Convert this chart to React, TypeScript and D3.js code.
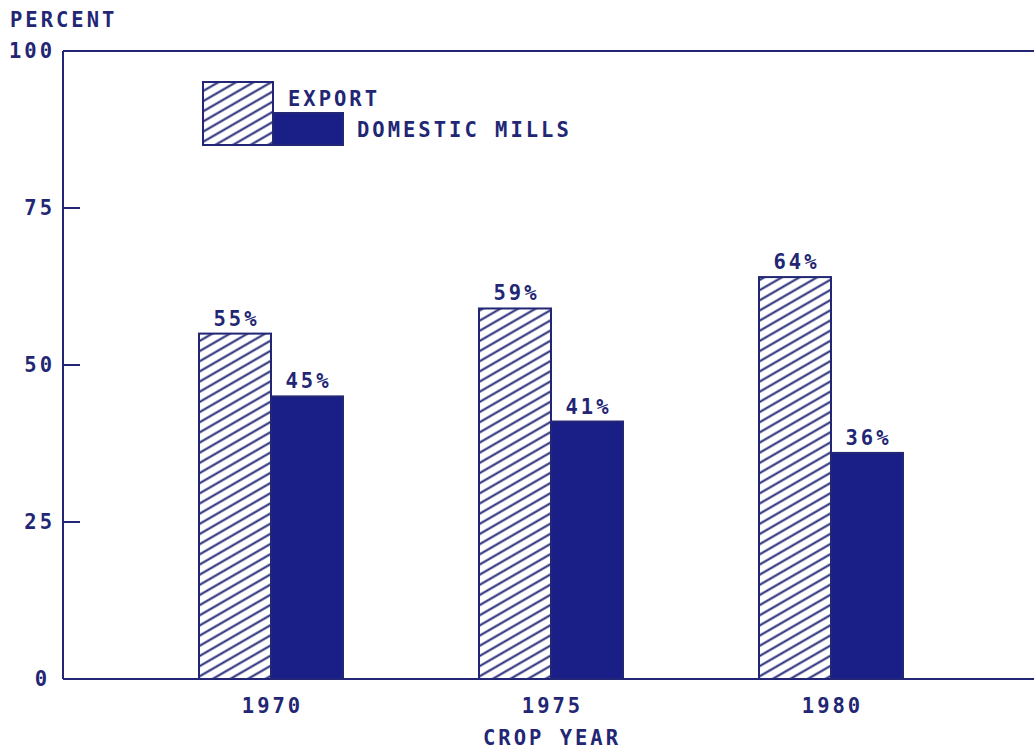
import React from "react";
import * as d3 from "d3";

const years = ["1970", "1975", "1980"];
const seriesKeys = ["export", "domestic"];
const seriesNames = ["EXPORT", "DOMESTIC MILLS"];
const exportValues = [55, 59, 64];
const domesticValues = [45, 41, 36];
const yTicks = [0, 25, 50, 75, 100];

const W = 1034;
const H = 751;
const NAVY = "#222674";
const FILL = "#1a1f88";
const FONT = "'DejaVu Sans Mono', monospace";

export default function App() {
  const left = 63;
  const top = 51;
  const bottom = 679;
  const y = d3.scaleLinear().domain([0, 100]).range([bottom, top]);
  const x0 = d3.scaleBand().domain(years).range([131, 971]).paddingInner(0);
  const x1 = d3.scaleBand().domain(seriesKeys).range([-72, 72]);
  const bw = x1.bandwidth();
  const values: Record<string, number[]> = { export: exportValues, domestic: domesticValues };

  const textStyle: React.CSSProperties = {
    fontFamily: FONT,
    fontWeight: "bold",
    fontSize: 20.5,
    letterSpacing: 3,
    fill: NAVY,
  };

  return (
    <div style={{ position: "absolute", left: 0, top: 0 }}>
      <svg width={W} height={H} style={{ display: "block", background: "#fff" }}>
        <defs>
          <pattern
            id="hatch"
            patternUnits="userSpaceOnUse"
            width={20}
            height={8.8}
            patternTransform="rotate(-30)"
          >
            <line x1={0} y1={4.4} x2={20} y2={4.4} stroke={NAVY} strokeWidth={2} />
          </pattern>
        </defs>

        {/* axes frame */}
        <line x1={left} y1={top} x2={W} y2={top} stroke={NAVY} strokeWidth={2} />
        <line x1={left} y1={top} x2={left} y2={bottom} stroke={NAVY} strokeWidth={2} />
        <line x1={left} y1={bottom} x2={W} y2={bottom} stroke={NAVY} strokeWidth={2} />

        {/* y ticks */}
        {yTicks.map((t) => (
          <g key={t}>
            {t !== 0 && t !== 100 && (
              <line x1={left} x2={left + 17} y1={y(t)} y2={y(t)} stroke={NAVY} strokeWidth={2} />
            )}
            <text x={t === 0 ? 50 : 55} y={y(t)} dy="0.36em" textAnchor="end" style={textStyle}>
              {t}
            </text>
          </g>
        ))}
        <text x={10} y={27} style={textStyle}>PERCENT</text>

        {/* bars */}
        {years.map((yr, i) => (
          <g key={yr} transform={`translate(${x0(yr)! + x0.bandwidth() / 2},0)`}>
            {seriesKeys.map((k) => {
              const v = values[k][i];
              const bx = x1(k)!;
              return (
                <g key={k}>
                  <rect
                    x={bx}
                    y={y(v)}
                    width={bw}
                    height={bottom - y(v)}
                    fill={k === "export" ? "url(#hatch)" : FILL}
                    stroke={NAVY}
                    strokeWidth={2}
                  />
                  <text
                    x={bx + bw / 2 + 1.5}
                    y={y(v) - 8}
                    textAnchor="middle"
                    style={textStyle}
                  >
                    {v}%
                  </text>
                </g>
              );
            })}
            <text x={1.5} y={713} textAnchor="middle" style={textStyle}>
              {yr}
            </text>
          </g>
        ))}
        <text x={552} y={745} textAnchor="middle" style={textStyle}>CROP YEAR</text>

        {/* legend */}
        <rect x={203} y={82} width={70} height={63} fill="url(#hatch)" stroke={NAVY} strokeWidth={2} />
        <rect x={273} y={113} width={70} height={32} fill={FILL} stroke={NAVY} strokeWidth={2} />
        <text x={288} y={106} style={textStyle}>{seriesNames[0]}</text>
        <text x={357} y={137} style={textStyle}>{seriesNames[1]}</text>
      </svg>
    </div>
  );
}
